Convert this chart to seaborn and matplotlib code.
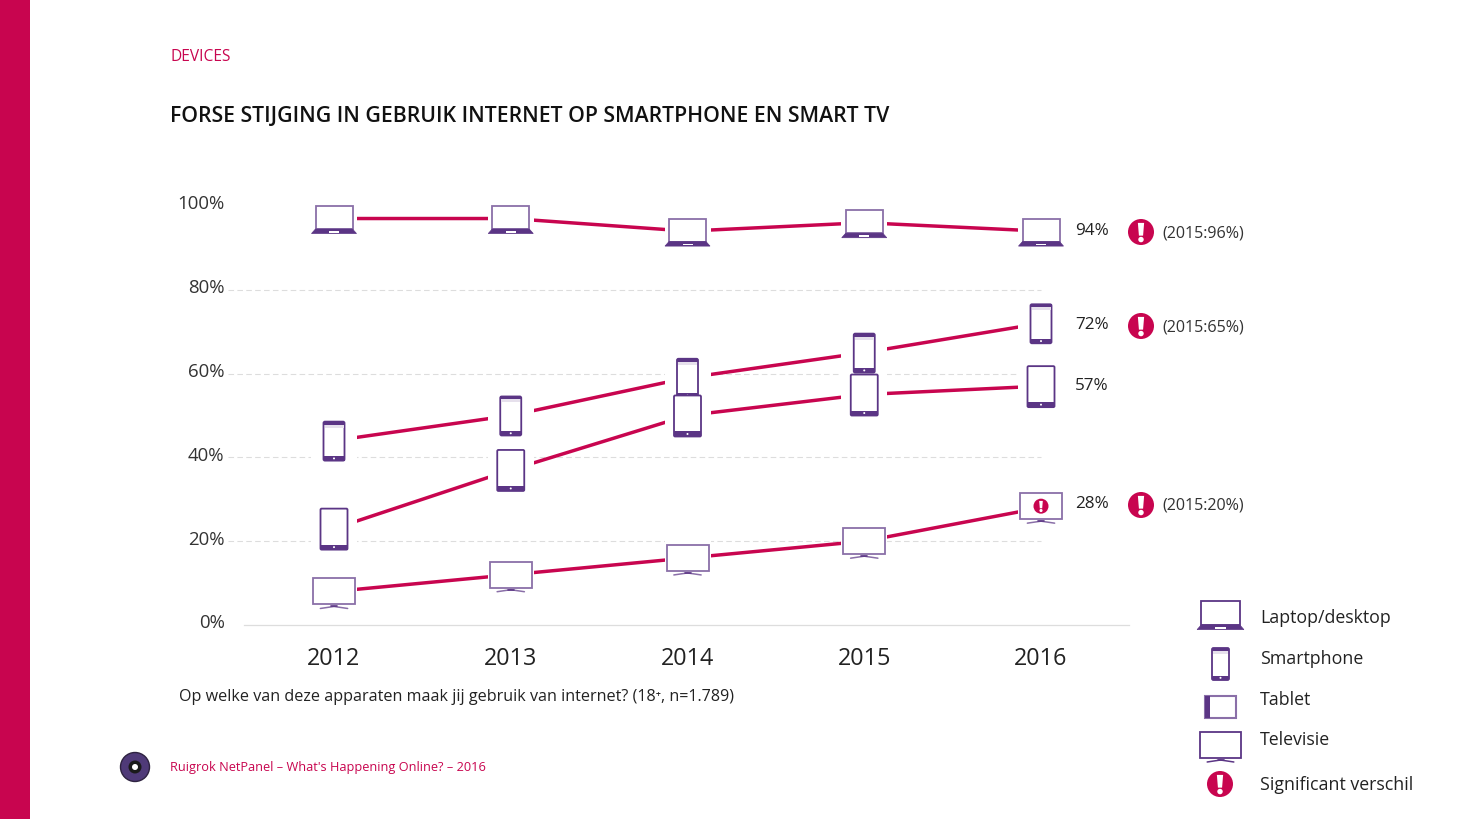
import pandas as pd
import seaborn as sns
import matplotlib.pyplot as plt
from matplotlib.patches import Rectangle, Circle, FancyBboxPatch, Polygon
from matplotlib.transforms import ScaledTranslation

# %% Data
years = [2012, 2013, 2014, 2015, 2016]
laptop = [97, 97, 94, 96, 94]
smartphone = [44, 50, 59, 65, 72]
tablet = [23, 37, 50, 55, 57]
televisie = [8, 12, 16, 20, 28]

y_ticks = [0, 20, 40, 60, 80, 100]
grid_ticks = [20, 40, 60, 80]
end_labels = ["94%", "72%", "57%", "28%"]
compare_labels = ["(2015:96%)", "(2015:65%)", "(2015:20%)"]
legend_labels = ["Laptop/desktop", "Smartphone", "Tablet", "Televisie", "Significant verschil"]

title = "FORSE STIJGING IN GEBRUIK INTERNET OP SMARTPHONE EN SMART TV"
question = "Op welke van deze apparaten maak jij gebruik van internet? (18⁺, n=1.789)"
footer = "Ruigrok NetPanel – What's Happening Online? – 2016"

CRIMSON = "#C8054F"
PURPLE = "#5B3585"
SOFT = "#8A6FA8"
W, H = 1462, 819

df = pd.DataFrame({"year": years, "Laptop/desktop": laptop, "Smartphone": smartphone,
                   "Tablet": tablet, "Televisie": televisie})
long_df = df.melt(id_vars="year", var_name="device", value_name="pct")

# %% Chart
sns.set_style("white")
plt.rcParams["font.family"] = ["Open Sans", "DejaVu Sans"]
fig = plt.figure(figsize=(W / 100, H / 100), dpi=100)

# axes: 0% sits at y=625px, 105% at y=185px, x runs over the baseline 244-1129px
ax = fig.add_axes([244 / W, 1 - 625 / H, 885 / W, 440 / H])
ax.patch.set_alpha(0)
ax.hlines(grid_ticks, 2011.4, 2016, color="#DDDDDD", lw=0.8, ls=(0, (5, 3)), clip_on=False, zorder=1)
sns.lineplot(data=long_df, x="year", y="pct", units="device", estimator=None,
             color=CRIMSON, lw=2.5, ax=ax, zorder=2)
ax.set_xlim(2012 - 90 / 176.75, 2016 + 88 / 176.75)
ax.set_ylim(0, 105)
ax.set_xticks(years)
ax.set_yticks(y_ticks)
ax.set_yticklabels([f"{v}%" for v in y_ticks])
ax.set_xlabel("")
ax.set_ylabel("")
ax.tick_params(axis="x", length=0, pad=16, labelsize=16.8, labelcolor="#222222")
ax.tick_params(axis="y", length=0, pad=14, labelsize=13.4, labelcolor="#333333")
for lab in ax.get_yticklabels():
    lab.set_transform(lab.get_transform() + ScaledTranslation(0, 3.5 / 100, fig.dpi_scale_trans))
sns.despine(ax=ax, left=True, top=True, right=True)
ax.spines["bottom"].set_color("#DDDDDD")
ax.spines["bottom"].set_linewidth(0.9)

# page layer in pixels, for the icons and the slide furniture
page = fig.add_axes([0, 0, 1, 1], zorder=5)
page.set_xlim(0, W)
page.set_ylim(H, 0)
page.axis("off")
page.patch.set_alpha(0)


def to_px(x, y):
    px, py = ax.transData.transform((x, y))
    return px, H - py


def box(x0, y0, x1, y1, **kw):
    page.add_patch(Rectangle((x0, y0), x1 - x0, y1 - y0, **kw))


def laptop_icon(cx, cy, s=1.0, color=SOFT, base=PURPLE):
    box(cx - 18.5 * s, cy - 12.5 * s, cx + 18.5 * s, cy + 10.5 * s, fc="white", ec=color, lw=1.3)
    page.add_patch(Polygon([(cx - 18.5 * s, cy + 10.5 * s), (cx + 18.5 * s, cy + 10.5 * s), (cx + 22.5 * s, cy + 15 * s),
                            (cx - 22.5 * s, cy + 15 * s)], fc=base, ec=base, lw=0.5))
    box(cx - 5 * s, cy + 12.5 * s, cx + 5 * s, cy + 14 * s, fc="white", lw=0)


def phone_icon(cx, cy, hw=10.5, h0=19, h1=20, color=PURPLE):
    page.add_patch(FancyBboxPatch((cx - hw, cy - h0), 2 * hw, h0 + h1, boxstyle="round,pad=0,rounding_size=1.5",
                                  fc="white", ec=color, lw=1.3))
    box(cx - hw, cy - h0, cx + hw, cy - h0 + 3, fc=color, lw=0)
    box(cx - hw + 1, cy - h0 + 3, cx + hw - 1, cy - h0 + 6, fc="#E6E0EC", lw=0)
    box(cx - hw, cy + h1 - 4.5, cx + hw, cy + h1, fc=color, lw=0)
    page.add_patch(Circle((cx, cy + h1 - 2.2), 1.0, fc="white", lw=0))


def tablet_icon(cx, cy, color=PURPLE):
    page.add_patch(FancyBboxPatch((cx - 13.5, cy - 20), 27, 41, boxstyle="round,pad=0,rounding_size=1.2",
                                  fc="white", ec=color, lw=1.3))
    box(cx - 13.5, cy + 16, cx + 13.5, cy + 21, fc=color, lw=0)
    page.add_patch(Circle((cx, cy + 18.5), 1.0, fc="white", lw=0))


def tv_icon(cx, cy, hw=21, h0=13, h1=13, color=SOFT):
    box(cx - hw, cy - h0, cx + hw, cy + h1, fc="white", ec=color, lw=1.3)
    page.plot([cx - hw * 0.65, cx, cx + hw * 0.65], [cy + h1 + 4, cy + h1 + 2, cy + h1 + 4], color=color, lw=1.1)
    page.plot([cx - 3, cx + 3], [cy + h1 + 2, cy + h1 + 2], color=PURPLE, lw=1.2)


def alert(cx, cy, r=13):
    page.add_patch(Circle((cx, cy), r, fc=CRIMSON, lw=0))
    page.add_patch(Polygon([(cx - r * 0.24, cy - r * 0.7), (cx + r * 0.24, cy - r * 0.7),
                            (cx + r * 0.16, cy + r * 0.28), (cx - r * 0.16, cy + r * 0.28)], fc="white", lw=0))
    page.add_patch(Circle((cx, cy + r * 0.58), r * 0.21, fc="white", lw=0))


# white boxes interrupt the red lines and the grid around each icon
for yr, lap, pho, tab, tv in zip(years, laptop, smartphone, tablet, televisie):
    for val in [lap, pho, tab, tv]:
        cx, cy = to_px(yr, val)
        box(cx - 23, cy - 24, cx + 23, cy + 24, fc="white", lw=0)

for yr, lap, pho, tab, tv in zip(years, laptop, smartphone, tablet, televisie):
    cx, cy = to_px(yr, lap)
    laptop_icon(cx, cy)
    cx, cy = to_px(yr, pho)
    phone_icon(cx, cy)
    cx, cy = to_px(yr, tab)
    tablet_icon(cx, cy)
    cx, cy = to_px(yr, tv)
    if yr == 2016:
        cy -= 1.5
    tv_icon(cx, cy)
alert(cx, cy, 7.5)

# end labels
for txt, y in zip(end_labels, [231, 325, 386, 504]):
    page.text(1075, y, txt, fontsize=12.3, color="#222222", va="center")
for txt, y in zip(compare_labels, [232, 326, 505]):
    alert(1141, y)
    page.text(1162, y + 1, txt, fontsize=11.6, color="#333333", va="center")

# legend
laptop_icon(1220.5, 614, 1.04, color=PURPLE)
phone_icon(1220.5, 664, 8.5, 16, 16)
box(1205, 696, 1236, 718, fc="white", ec=SOFT, lw=1.5)
box(1205, 696, 1209.5, 718, fc=PURPLE, lw=0)
tv_icon(1220.5, 745, 20.5, 13, 13, color=PURPLE)
alert(1220, 784)
for txt, y in zip(legend_labels, [618, 659, 700, 740, 785]):
    page.text(1260, y, txt, fontsize=12.8, color="#222222", va="center")

# slide furniture
box(0, 0, 30, H, fc=CRIMSON, lw=0)
page.text(170, 57, "DEVICES", fontsize=11.2, color=CRIMSON, va="center")
page.text(169.5, 117, title, fontsize=15.33, color="#111111", va="center", weight="semibold")
page.text(179, 697, question, fontsize=11.65, color="#222222", va="center")
page.text(170, 767, footer, fontsize=9.2, color=CRIMSON, va="center")
page.add_patch(Circle((135, 767), 14.5, fc="#4F3A78", ec="#2E2340", lw=1))
page.add_patch(Circle((135, 767), 6.5, fc="#1A1A1A", lw=0))
page.add_patch(Circle((135, 767), 3, fc="white", lw=0))

fig.savefig("out.png", dpi=100)
